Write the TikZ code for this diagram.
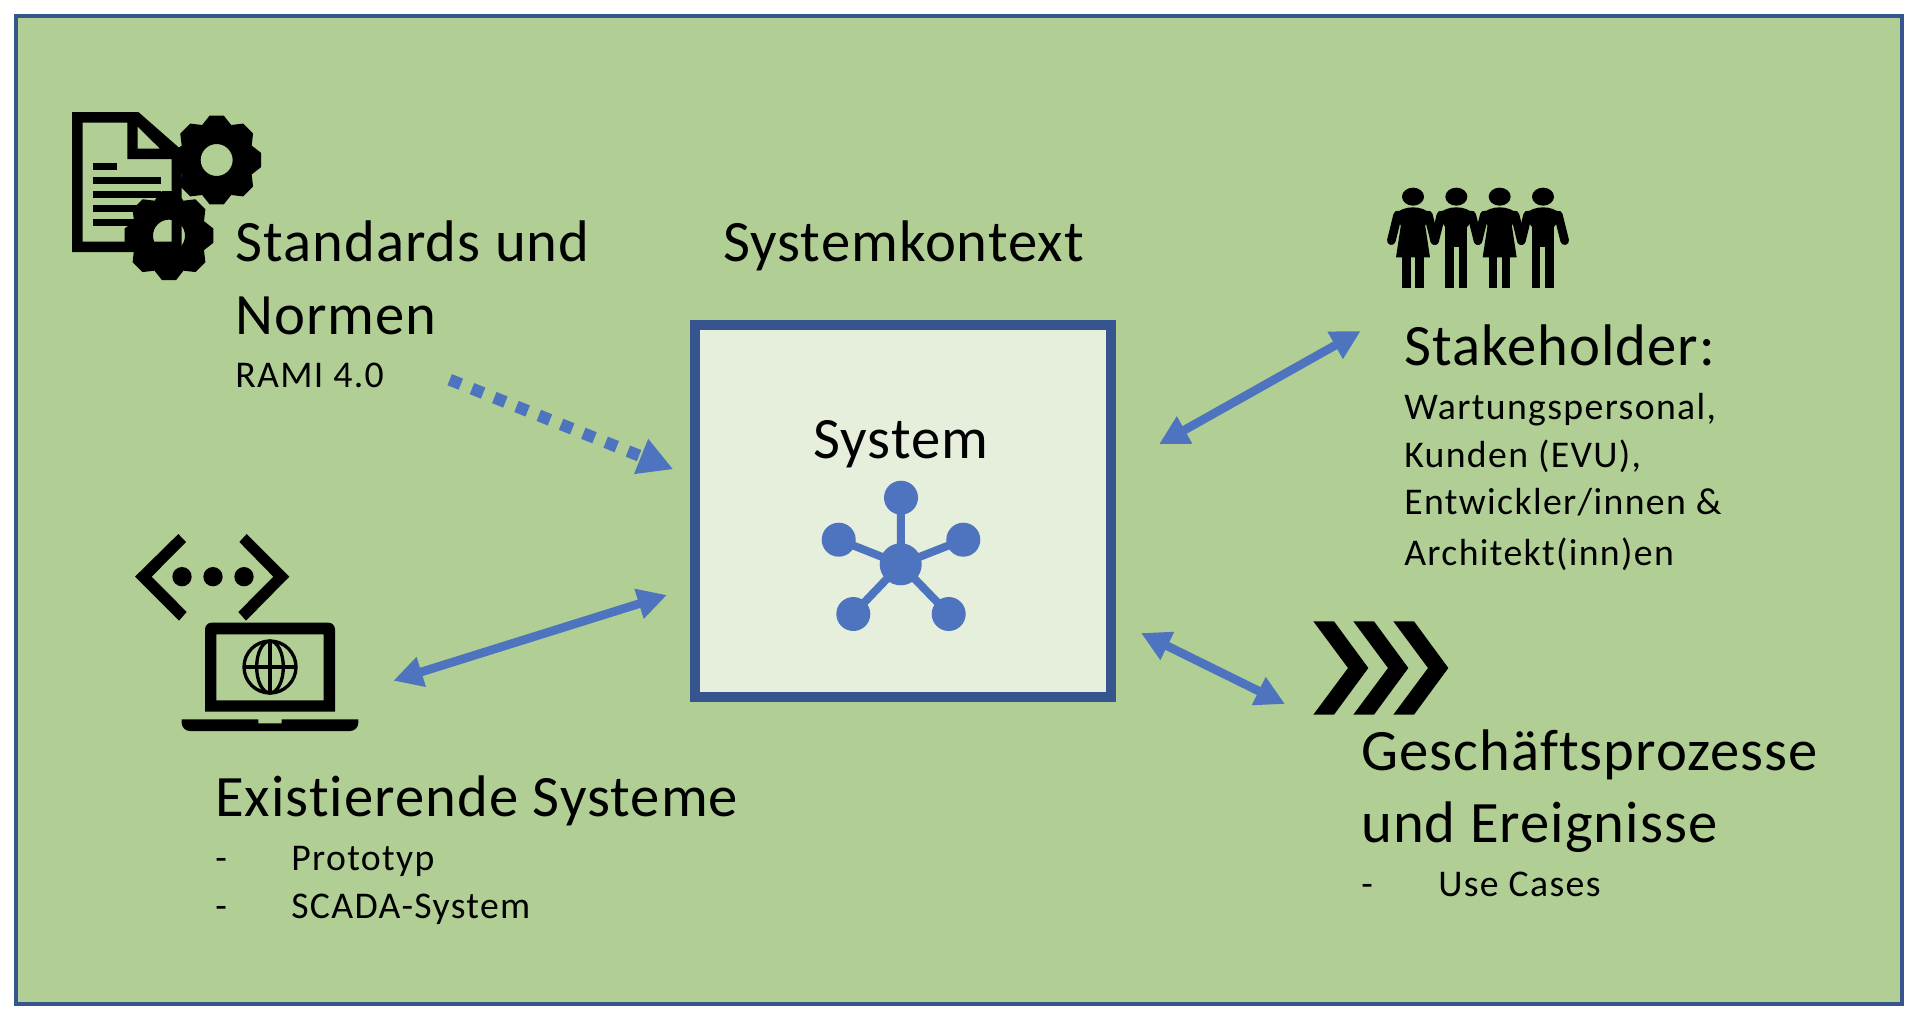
\documentclass[tikz,border=0pt]{standalone}
\usepackage{fontspec}
\setmainfont[Ligatures={NoCommon}]{Carlito}
\usetikzlibrary{arrows.meta,calc}
\definecolor{bggreen}{HTML}{B1CF94}
\definecolor{framebl}{HTML}{36558F}
\definecolor{boxfill}{HTML}{E5EFDC}
\definecolor{accent}{HTML}{4E74C0}
\tikzset{
  big/.style={inner sep=0pt,anchor=base west,font=\fontsize{44pt}{44pt}\selectfont\addfontfeature{LetterSpace=1.8},text=black},
  small/.style={inner sep=0pt,anchor=base west,font=\fontsize{28.3pt}{28.3pt}\selectfont\addfontfeature{LetterSpace=3.6},text=black},
  dbl/.style={draw=accent,line width=6.5pt,{Triangle[length=22pt,width=22pt]}-{Triangle[length=22pt,width=22pt]}},
  netdot/.style={circle,fill=accent,inner sep=0pt,minimum size=25.5pt},
  netlink/.style={draw=accent,line width=6pt},
  iconzoom/.style={x=0.25pt,y=-0.25pt}
}
\newcommand{\geartooth}[3]{%
  \fill[even odd rule] \foreach \a [count=\i] in {0,45,...,315} {
    \ifnum\i=1 \else -- \fi
    ($(#1,#2)+(\a-24:#3*0.83)$) -- ($(#1,#2)+(\a-9:#3)$) -- ($(#1,#2)+(\a+9:#3)$) -- ($(#1,#2)+(\a+24:#3*0.83)$)
  } -- cycle (#1,#2) circle[x radius=12pt,y radius=12pt];}
\begin{document}
\begin{tikzpicture}[x=0.75pt,y=-0.75pt]
\useasboundingbox (0,0) rectangle (1916,1024);
\fill[white] (0,0) rectangle (1916,1024);
\draw[draw=framebl,fill=bggreen,line width=3pt] (16,16) rectangle (1902,1004);

% system box
\node[draw=framebl,fill=boxfill,line width=7.5pt,minimum width=312pt,minimum height=279pt,inner sep=0pt] (sys) at (903,511) {};
\node[big,anchor=base] (systxt) at (901,458.5) {System};
\node[big] (kontext) at (723,261) {Systemkontext};

% network icon
\node[netdot,minimum size=31.5pt] (hub) at (900.7,564.3) {};
\node[netdot] (n1) at (901,497.7) {};
\node[netdot] (n2) at (838.7,539.7) {};
\node[netdot] (n3) at (963.3,539.7) {};
\node[netdot] (n4) at (853.3,614) {};
\node[netdot] (n5) at (948.7,614) {};
\foreach \n in {n1,n2,n3,n4,n5} \draw[netlink] (hub.center) -- (\n.center);

% texts
\node[big] (std1) at (235,261) {Standards und};
\node[big] (std2) at (235,334) {Normen};
\node[small] (rami) at (235,387) {RAMI 4.0};
\node[big] (sh) at (1404,365) {Stakeholder:};
\node[small] (sh1) at (1404,419) {Wartungspersonal,};
\node[small] (sh2) at (1404,467) {Kunden (EVU),};
\node[small] (sh3) at (1404,514) {Entwickler/innen \&};
\node[small] (sh4) at (1404,565) {Architekt(inn)en};
\node[big] (ex) at (215,816) {Existierende Systeme};
\node[small] (exd1) at (215,870) {-};
\node[small] (ex1) at (291,870) {Prototyp};
\node[small] (exd2) at (215,918) {-};
\node[small] (ex2) at (291,918) {SCADA-System};
\node[big] (gp1) at (1361,770) {Geschäftsprozesse};
\node[big] (gp2) at (1361,842) {und Ereignisse};
\node[small] (gpd) at (1361,896) {-};
\node[small] (gp3) at (1438,896) {Use Cases};

% connectors
\coordinate (a1) at (449.7,379.7); \coordinate (a2) at (673.3,469.3);
\coordinate (b1) at (393.3,680.7); \coordinate (b2) at (667,595);
\coordinate (c1) at (1159,444.3); \coordinate (c2) at (1360.7,331);
\coordinate (d1) at (1141,633); \coordinate (d2) at (1285,704);
\draw[draw=accent,line width=9pt,dash pattern=on 9pt off 9pt,-{Triangle[length=26pt,width=26.5pt]}] (a1) -- (a2);
\draw[dbl] (b1) -- (b2);
\draw[dbl] (c1) -- (c2);
\draw[dbl] (d1) -- (d2);

% document + gears icon
\begin{scope}[shift={(50,90)},iconzoom]
\geartooth{500}{210}{33.75pt}
\geartooth{357}{437}{33.75pt}
\fill[even odd rule] (66,66) -- (265,66) -- (395,180) -- (395,486) -- (66,486) -- cycle
  (98,98) -- (232,98) -- (232,207) -- (365,207) -- (365,455) -- (98,455) -- cycle
  (263,110) -- (263,176) -- (330,176) -- cycle;
\fill (130,218) rectangle (200,240);
\fill (130,260) rectangle (332,282);
\fill (130,302) rectangle (332,323);
\fill (130,345) rectangle (290,365);
\fill (130,387) rectangle (260,408);
\end{scope}

% laptop icon
\begin{scope}[shift={(120,520)},iconzoom]
\fill (45,170) -- (175,42) -- (198,66) -- (95,170) -- (200,276) -- (177,302) -- cycle;
\fill (508,170) -- (380,42) -- (358,66) -- (460,170) -- (355,276) -- (378,302) -- cycle;
\foreach \px in {186,279,372} \fill (\px,170) circle[radius=7.25pt];
\fill[even odd rule] (255,575) -- (255,328) to[out=90,in=180] (275,308) -- (625,308) to[out=0,in=90] (645,328) -- (645,575) -- cycle
  (289,343) rectangle (611,541);
\fill (185,598) -- (415,598) -- (415,610) -- (485,610) -- (485,598) -- (715,598) -- (715,608) to[out=-90,in=0] (690,633) -- (210,633) to[out=180,in=-90] (185,608) -- cycle;
\draw[line width=2.5pt] (450,441) circle[radius=19.5pt];
\draw[line width=2.5pt] (450,441) ellipse[x radius=10pt,y radius=19.5pt];
\draw[line width=2.5pt] (370,441) -- (530,441) (450,361) -- (450,521);
\end{scope}

% people icon
\begin{scope}[shift={(1370,170)},iconzoom]
\foreach \cx/\kind in {129/0,259/1,389/0,519/1} {
  \fill (\cx,80) ellipse[x radius=8.25pt,y radius=6.75pt];
  \fill (\cx-58,135) .. controls (\cx-40,118) and (\cx-20,112) .. (\cx,112) .. controls (\cx+20,112) and (\cx+40,118) .. (\cx+58,135) -- (\cx+34,170) -- (\cx-34,170) -- cycle;
  \draw[line width=6.5pt,line cap=round] (\cx-46,135) -- (\cx-65,212);
  \draw[line width=6.5pt,line cap=round] (\cx+46,135) -- (\cx+65,212);
  \ifnum\kind=0
    \fill (\cx-34,150) -- (\cx-51,262) -- (\cx+51,262) -- (\cx+34,150) -- cycle;
    \fill (\cx-32,260) rectangle (\cx-7,354);
    \fill (\cx+7,260) rectangle (\cx+32,354);
  \else
    \fill (\cx-33,150) rectangle (\cx+33,230);
    \fill (\cx-33,228) rectangle (\cx-8,354);
    \fill (\cx+7,228) rectangle (\cx+33,354);
  \fi
}
\end{scope}

% chevrons icon
\begin{scope}[shift={(1120,600)},iconzoom]
\foreach \dx in {0,120,240}
  \fill (580+\dx,64) -- (642+\dx,64) -- (745+\dx,204) -- (642+\dx,344) -- (580+\dx,344) -- (684+\dx,204) -- cycle;
\end{scope}
\end{tikzpicture}
\end{document}
